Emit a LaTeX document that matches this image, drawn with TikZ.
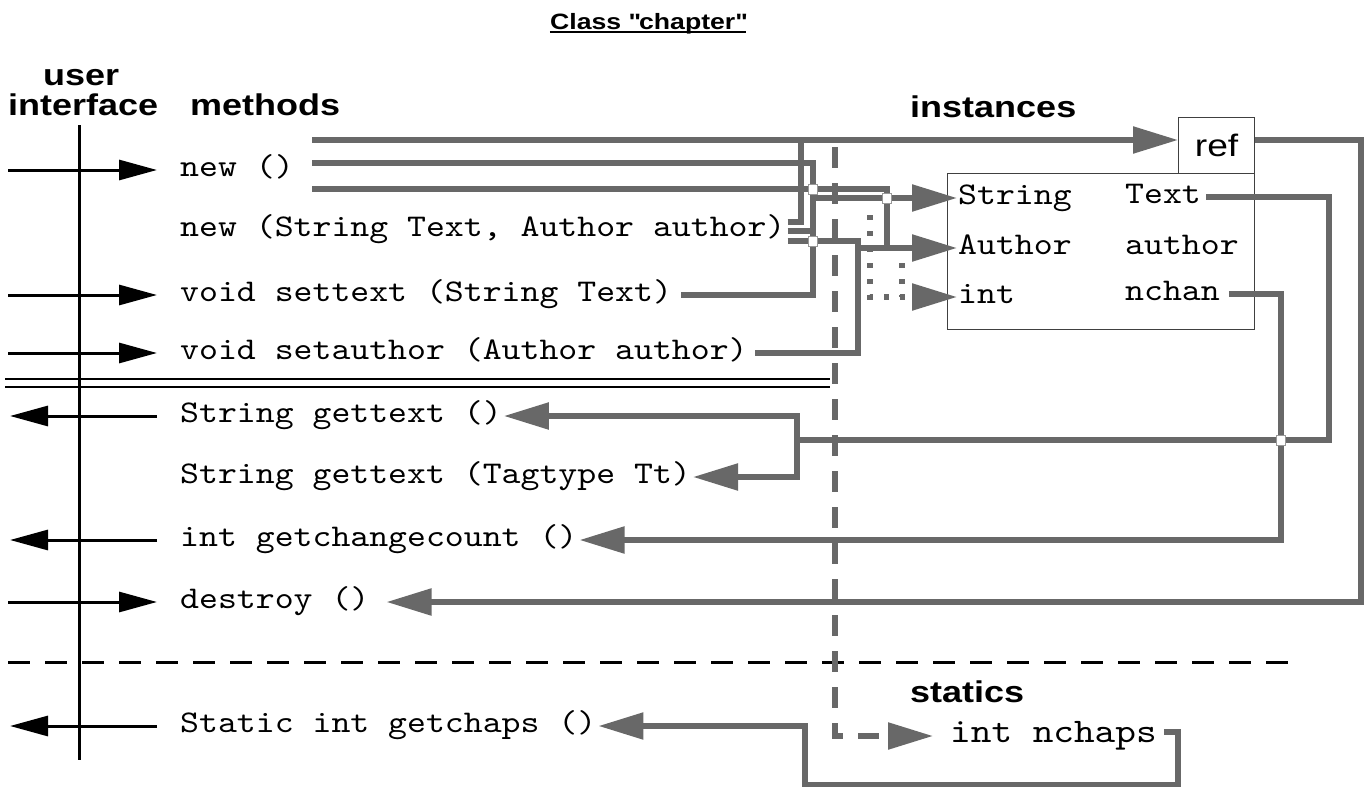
\documentclass[tikz,border=0pt]{standalone}
\usepackage{fontspec}
\setmainfont{Liberation Sans}
\newfontfamily\headfont[FakeStretch=1.2]{Liberation Sans}
\newfontfamily\monofont[FakeStretch=1.14]{lmmono10-regular.otf}
\usetikzlibrary{arrows.meta}
\definecolor{linegray}{RGB}{104,104,104}

\begin{document}
\begin{tikzpicture}[x=1pt, y=-1pt,
    mtext/.style={font=\monofont\fontsize{31.6}{36}\selectfont, anchor=west,
      inner xsep=2pt, inner ysep=0pt, text height=19pt, text depth=7pt},
    head/.style={font=\headfont\bfseries\fontsize{30}{34}\selectfont, anchor=base west, inner sep=0pt},
    gline/.style={draw=linegray, line width=5.5pt},
    garrow/.style={gline, -{Triangle[length=45pt, width=26pt]}},
    gdots/.style={gline, dash pattern=on 5pt off 11pt},
    uiarrow/.style={line width=3pt, -{Triangle[length=38pt, width=20pt]}},
    box/.style={draw=black!75, line width=1.2pt, inner sep=0pt},
    bridge/.style={draw=black!40, fill=white, line width=1pt, minimum width=9pt, minimum height=10pt, inner sep=0pt}]
  \useasboundingbox (0,0) rectangle (1369,787);

  % headings
  \node[font=\headfont\bfseries\fontsize{22.2}{26}\selectfont, anchor=base, inner sep=0pt] (title) at (648,29) {Class \textquotedbl chapter\textquotedbl};
  \draw[line width=1.8pt] ([yshift=-3pt]title.base west) -- ([yshift=-3pt]title.base east);
  \node[head] (huser) at (43,85) {user};
  \node[head] (hiface) at (8,115) {interface};
  \node[head] (hmeth) at (190,115) {methods};
  \node[head] (hinst) at (910,117) {instances};
  \node[head] (hstat) at (910,702) {statics};

  % method rows
  \foreach \nm/\y/\txt in {
      mnew/170/new (),
      mnewsa/230/{new (String Text, Author author)},
      msettext/295/void settext (String Text),
      msetauth/353/void setauthor (Author author),
      mget/416/String gettext (),
      mgettt/477/String gettext (Tagtype Tt),
      mgetcc/540/int getchangecount (),
      mdestroy/602/destroy (),
      mgetchaps/726/Static int getchaps ()} {
    \node[mtext] (\nm) at (178,\y) {\txt};
  }

  % user interface
  \coordinate (uileft) at (8,0);
  \coordinate (uitop) at (79,125);
  \coordinate (uibot) at (79,760);
  \draw[line width=3pt] (uitop) -- (uibot);
  \foreach \nm in {mnew,msettext,msetauth,mdestroy} {
    \draw[uiarrow] (\nm.west -| uileft) -- ([xshift=-21pt]\nm.west);
  }
  \foreach \nm in {mget,mgetcc,mgetchaps} {
    \draw[uiarrow] ([xshift=-21pt]\nm.west) -- ([xshift=2pt]\nm.west -| uileft);
  }

  % separators
  \draw[line width=1.2pt] (5,379) -- (830,379) (5,387) -- (830,387);
  \draw[line width=3pt, dash pattern=on 22pt off 15pt] (8,662) -- (1300,662);

  % instance data
  \node[box, minimum width=307pt, minimum height=156pt, anchor=north west] (inst) at (947,173) {};
  \node[box, minimum width=76pt, minimum height=56pt, anchor=north west,
    font=\headfont\fontsize{31}{36}\selectfont] (ref) at (1178,117) {ref};
  \node[mtext, inner xsep=1pt] (tString) at (957,198) {String};
  \node[mtext, inner xsep=1pt] (tAuthor) at (957,248) {Author};
  \node[mtext, inner xsep=1pt] (tint) at (957,297) {int};
  \node[mtext, inner xsep=1pt] (vText) at (1124,197) {Text};
  \node[mtext, inner xsep=1pt] (vauthor) at (1124,248) {author};
  \node[mtext, inner xsep=1pt] (vnchan) at (1124,294) {nchan};
  \node[mtext, font=\monofont\fontsize{34.5}{38}\selectfont, inner xsep=1pt] (snchaps) at (949,736) {int nchaps};

  % wiring columns
  \coordinate (colR) at (801,0);
  \coordinate (colT) at (813,0);
  \coordinate (colA) at (858,0);
  \coordinate (colB) at (887,0);
  \coordinate (colN) at (1281,0);
  \coordinate (colX) at (1329,0);
  \coordinate (colE) at (1361,0);
  \coordinate (colZ) at (1178,0);
  \coordinate (newA) at (312,140);
  \coordinate (newB) at (312,163);
  \coordinate (newC) at (312,189);
  \coordinate (gj) at (797,440);
  \coordinate (sb) at (805,785);
  \coordinate (vtop) at (835,147);
  \coordinate (d1) at (870,215);
  \coordinate (d2) at (902,263);
  \path ([yshift=8pt]mnewsa.east) coordinate (s1)
        ([yshift=-1pt]mnewsa.east) coordinate (s2)
        ([yshift=-11pt]mnewsa.east) coordinate (s3);

  % static init
  \draw[gline, dash pattern=on 21pt off 15pt, -{Triangle[length=45pt, width=26pt]}]
    (vtop) |- ([xshift=-16pt]snchaps.west);

  % setting fields
  \draw[garrow] (newA) -- (newA -| ref.west);
  \draw[gline] (s1) -| (colR |- newA);
  \draw[gline] (newB) -| (colT |- msettext.east) -- ([xshift=7pt]msettext.east);
  \draw[gline] (s2) -- (s2 -| colT);
  \draw[garrow] (colT |- tString.west) -- (tString.west);
  \draw[gline] (newC) -| (colB |- tAuthor.west);
  \draw[gline] (s3) -| (colA |- msetauth.east) -- ([xshift=5pt]msetauth.east);
  \draw[garrow] (colA |- tAuthor.west) -- (tAuthor.west);
  \draw[gdots, -{Triangle[length=45pt, width=26pt]}] (d1) |- (tint.west);
  \draw[gdots] (d2) -- (d2 |- tint.west);

  % reading fields
  \draw[gline] ([xshift=4pt]vText.east) -| (colX |- gj) -- (gj);
  \draw[garrow] (gj) |- (mget.east);
  \draw[garrow] (gj) |- (mgettt.east);
  \draw[garrow] ([xshift=8pt]vnchan.east) -| (colN |- mgetcc.east) -- (mgetcc.east);
  \draw[garrow] (ref.east |- newA) -| (colE |- mdestroy.east) -- ([xshift=15pt]mdestroy.east);
  \draw[garrow] ([xshift=6pt,yshift=4pt]snchaps.east) -| (colZ |- sb) -- (sb) |- (mgetchaps.east);

  % line hops
  \node[bridge] at (colT |- newC) {};
  \node[bridge] at (colB |- tString.west) {};
  \node[bridge] at (colT |- s3) {};
  \node[bridge] at (colN |- gj) {};
\end{tikzpicture}
\end{document}
